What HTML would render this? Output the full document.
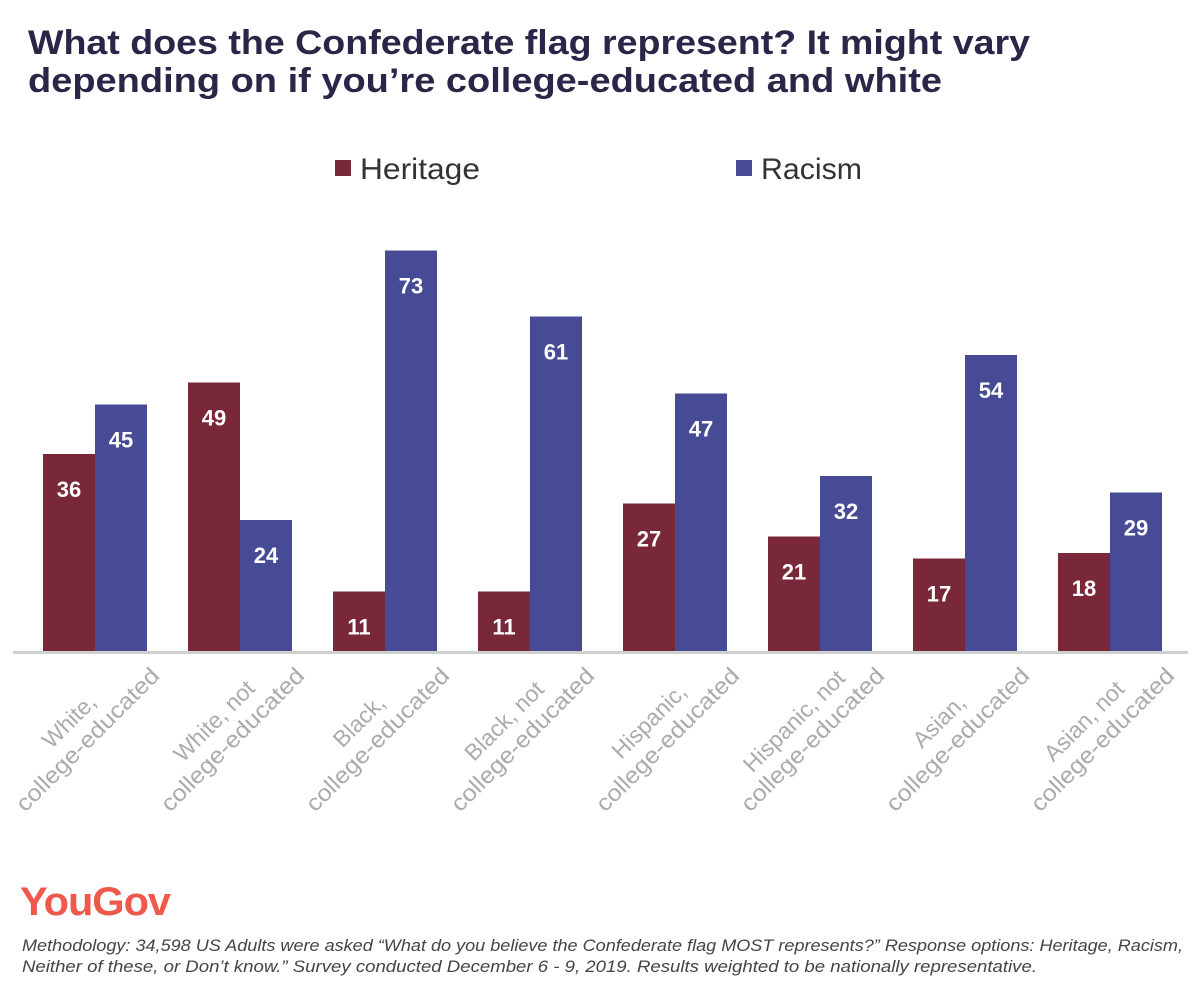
<!DOCTYPE html>
<html><head><meta charset="utf-8"><style>
body{margin:0;background:#fff;width:1200px;height:994px;overflow:hidden;font-family:"Liberation Sans",sans-serif}
</style></head><body>
<svg width="1200" height="994" xmlns="http://www.w3.org/2000/svg">
<text x="28" y="54" font-size="34" font-weight="bold" fill="#2d2548" textLength="1002" lengthAdjust="spacingAndGlyphs">What does the Confederate flag represent? It might vary</text>
<text x="28" y="92" font-size="34" font-weight="bold" fill="#2d2548" textLength="914" lengthAdjust="spacingAndGlyphs">depending on if you’re college-educated and white</text>
<g>
<rect x="335" y="160" width="16" height="16" fill="#79283a"/>
<text x="360" y="179" font-size="30" fill="#333" textLength="120" lengthAdjust="spacingAndGlyphs">Heritage</text>
<rect x="736" y="160" width="16" height="16" fill="#474b95"/>
<text x="761" y="179" font-size="30" fill="#333" textLength="101" lengthAdjust="spacingAndGlyphs">Racism</text>
</g>
<g id="bars"></g>
<rect x="13" y="651" width="1175" height="3" fill="#cfcfcf"/>
<g id="labels"></g>
<text x="20" y="915" font-size="40" font-weight="bold" fill="#f0584c" letter-spacing="-1" textLength="150" lengthAdjust="spacingAndGlyphs">YouGov</text>
<text x="22" y="951" font-size="16.5" font-style="italic" fill="#444" textLength="1161" lengthAdjust="spacingAndGlyphs">Methodology: 34,598 US Adults were asked “What do you believe the Confederate flag MOST represents?” Response options: Heritage, Racism,</text>
<text x="22" y="972" font-size="16.5" font-style="italic" fill="#444" textLength="1015" lengthAdjust="spacingAndGlyphs">Neither of these, or Don’t know.” Survey conducted December 6 - 9, 2019. Results weighted to be nationally representative.</text>
</svg>
<script>
const categories1 = ["White,","White, not","Black,","Black, not","Hispanic,","Hispanic, not","Asian,","Asian, not"];
const categories2 = ["college-educated","college-educated","college-educated","college-educated","college-educated","college-educated","college-educated","college-educated"];
const heritage = [36,49,11,11,27,21,17,18];
const racism = [45,24,73,61,47,32,54,29];
const NS="http://www.w3.org/2000/svg";
const base=652, scale=5.5, x0=43, pitch=145, bw=52;
function y(v){return base-v*scale;}
function gx(i){return x0+i*pitch;}
const bars=document.getElementById('bars'), labels=document.getElementById('labels');
function mk(t,a){const e=document.createElementNS(NS,t);for(const k in a)e.setAttribute(k,a[k]);return e;}
function bar(i,v,off,color,name){
  const r=mk('rect',{x:gx(i)+off,y:y(v),width:bw,height:v*scale,fill:color});
  
  
  bars.appendChild(r);
  const t=mk('text',{x:gx(i)+off+bw/2,y:y(v)+43,'text-anchor':'middle','font-size':'22','font-weight':'bold',fill:'#fff'});
  t.textContent=v;
  
  
  bars.appendChild(t);
}
for(let i=0;i<heritage.length;i++){
  bar(i,heritage[i],0,'#79283a','heritage');
  bar(i,racism[i],bw,'#474b95','racism');
  const cx=gx(i)+bw-7, cy=740;
  const g=mk('g',{transform:'translate('+cx+','+cy+') rotate(-45)'});
  
  
  const t1=mk('text',{x:0,y:-19,'text-anchor':'middle','font-size':'23',fill:'#ababab'});
  t1.textContent=categories1[i];
  const t2=mk('text',{x:0,y:7,'text-anchor':'middle','font-size':'23',fill:'#ababab','textLength':'192','lengthAdjust':'spacingAndGlyphs'});
  t2.textContent=categories2[i];
  g.appendChild(t1);g.appendChild(t2);labels.appendChild(g);
}
</script>
</body></html>
